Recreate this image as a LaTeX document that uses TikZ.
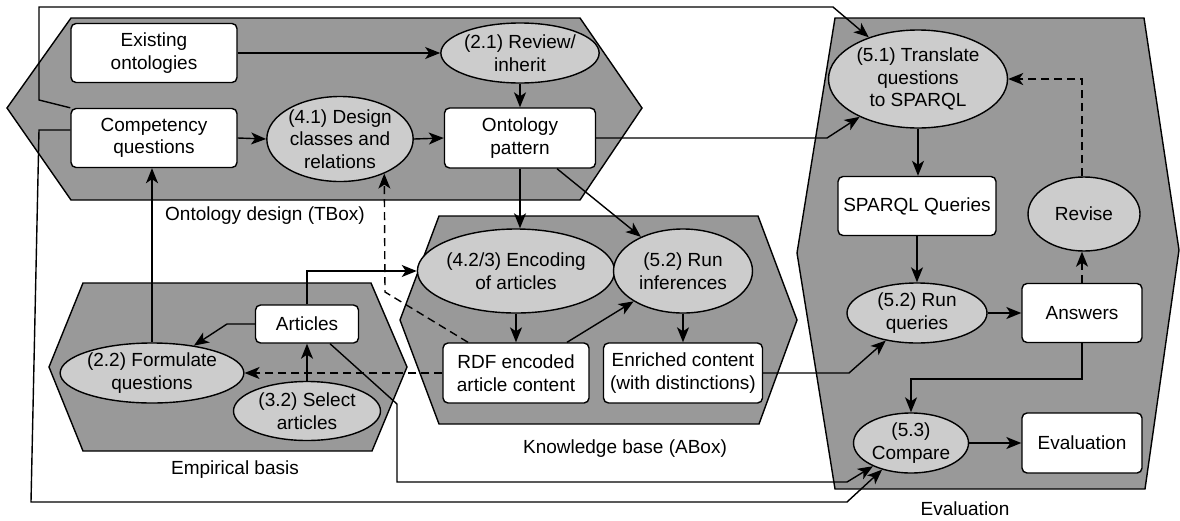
\documentclass[tikz,border=0pt]{standalone}
\usepackage{fontspec}
\setmainfont{Liberation Sans}
\usetikzlibrary{arrows.meta,shapes.geometric}
\definecolor{panelgray}{HTML}{999999}
\definecolor{ellgray}{HTML}{CCCCCC}
\begin{document}
\begin{tikzpicture}[x=1pt,y=-1pt,
  font=\fontsize{19}{22.5}\selectfont,
  panel/.style={draw=black, fill=panelgray, line width=1.4pt, line join=miter},
  box/.style={draw=black, fill=white, rounded corners=5pt, line width=1.4pt, align=center, inner sep=0pt},
  proc/.style={draw=black, fill=ellgray, ellipse, line width=1.4pt, align=center, inner sep=0pt},
  arr/.style={line width=1.4pt, -{Stealth[length=15pt,width=12pt,inset=4pt]}},
  darr/.style={arr, dash pattern=on 8pt off 5pt},
  lbl/.style={inner sep=0pt, anchor=center}
]
\useasboundingbox (0,0) rectangle (1180,520);

% panels
\path[panel] (71,18) -- (580,18) -- (642,108) -- (580,200) -- (71,200) -- (7,108) -- cycle;
\path[panel] (83,283) -- (371,283) -- (407,367) -- (372,451) -- (83,451) -- (49,367) -- cycle;
\path[panel] (439,216) -- (758,216) -- (797,320) -- (759,424) -- (439,424) -- (400,320) -- cycle;
\path[panel] (835,18) -- (1144,18) -- (1179,250) -- (1145,489) -- (835,489) -- (797,253) -- cycle;

% panel labels
\node[lbl] (lt) at (265,216) {Ontology design (TBox)};
\node[lbl] (le) at (235,470) {Empirical basis};
\node[lbl] (la) at (625,449) {Knowledge base (ABox)};
\node[lbl] (lv) at (965,509) {Evaluation};

% nodes
\node[box, minimum width=166pt, minimum height=59pt] (eo) at (154,53) {Existing\\ontologies};
\node[box, minimum width=166pt, minimum height=59pt] (cq) at (154,138) {Competency\\questions};
\node[proc, minimum width=145pt, minimum height=85pt] (d41) at (340,139) {(4.1) Design\\classes and\\relations};
\node[proc, minimum width=151pt, minimum height=60pt] (r21) at (520,53) {(2.1) Review/\\inherit};
\node[box, minimum width=151pt, minimum height=60pt] (op) at (520,138) {Ontology\\pattern};
\node[proc, minimum width=179pt, minimum height=98pt] (t51) at (918,79) {(5.1) Translate\\questions\\to SPARQL};
\node[box, minimum width=158pt, minimum height=59pt] (sq) at (917,206) {SPARQL Queries};
\node[proc, minimum width=112pt, minimum height=74pt] (rev) at (1084,214) {Revise};
\node[proc, minimum width=140pt, minimum height=60pt] (rq) at (917,313) {(5.2) Run\\queries};
\node[box, minimum width=120pt, minimum height=59pt] (ans) at (1082,313) {Answers};
\node[proc, minimum width=115pt, minimum height=60pt] (cmp) at (911,443) {(5.3)\\Compare};
\node[box, minimum width=120pt, minimum height=60pt] (ev) at (1082,443) {Evaluation};
\node[proc, minimum width=190pt, minimum height=84pt] (enc) at (516,271) {(4.2/3) Encoding\\of articles};
\node[proc, minimum width=139pt, minimum height=84pt] (inf) at (683,271) {(5.2) Run\\inferences};
\node[box, minimum width=146pt, minimum height=60pt] (rdf) at (516,373) {RDF encoded\\article content};
\node[box, minimum width=159pt, minimum height=60pt] (enr) at (683,373) {Enriched content\\(with distinctions)};
\node[box, minimum width=103pt, minimum height=38pt] (art) at (307,324) {Articles};
\node[proc, minimum width=167pt, minimum height=60pt] (f22) at (152,373) {(2.2) Formulate\\questions};
\node[proc, minimum width=147pt, minimum height=59pt] (s32) at (307,411) {(3.2) Select\\articles};

% connectors
\draw[arr] (cq.north west) -- (39,100) -- (39,7) -- (833,7) -- (t51);
\draw[arr] ([yshift=8pt]cq.west) -- (39,130) -- (31,502) -- (847,502) -- (cmp);
\draw[arr] ([xshift=23pt]art.south) -- (397,404) -- (397,482) -- (847,482) -- (cmp);
\draw[arr] (art.north) |- (enc.west);
\draw[arr] (art.west) -- (227,324) -- (f22);
\draw[arr] (s32.north) -- (art.south);
\draw[arr] (f22.north) -- (f22.north |- cq.south);
\draw[darr] (rdf.west) -- (f22.east);
\draw[darr] ([xshift=-48pt]rdf.north) -- (385,292) -- (d41.322);
\draw[arr] (enc.south) -- (rdf.north);
\draw[arr] ([xshift=51pt]rdf.north) -- (inf);
\draw[arr] (inf.south) -- (enr.north);
\draw[arr] (enr.east) -- (849,373) -- (rq);
\draw[arr] (op.south) -- (op.south |- enc.north);
\draw[arr] ([xshift=37pt]op.south) -- (inf);
\draw[arr] (op.east) -- (827,138) -- (t51);
\draw[arr] (eo.east) -- (r21.west);
\draw[arr] (r21.south) -- (op.north);
\draw[arr] (cq.east) -- (d41.west);
\draw[arr] (d41.east) -- (op.west);
\draw[arr] (t51.south) -- (t51.south |- sq.north);
\draw[arr] (sq.south) -- (rq.north);
\draw[arr] (rq.east) -- (ans.west);
\draw[darr] (ans.north) -- (ans.north |- rev.south);
\draw[darr] (ans.north |- rev.north) |- (t51.east);
\draw[arr] (ans.south) -- (1082,379) -| (cmp.north);
\draw[arr] (cmp.east) -- (ev.west);
\end{tikzpicture}
\end{document}
